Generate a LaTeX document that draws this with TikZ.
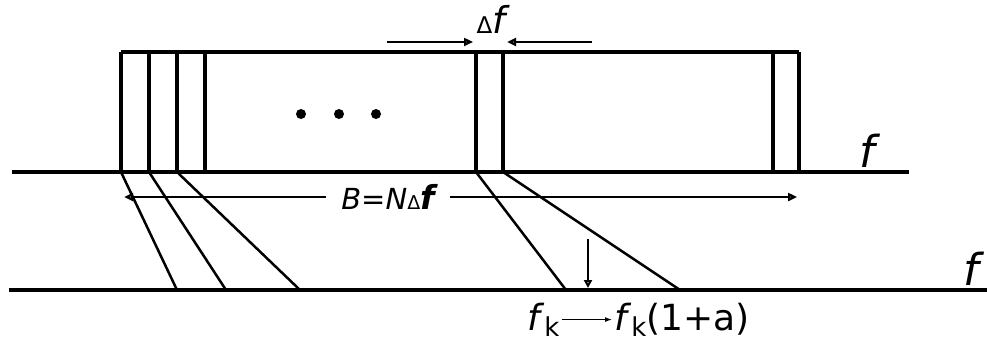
\documentclass[tikz,border=0pt]{standalone}
\usepackage{fontspec}
\setmainfont{DejaVu Sans}
\usetikzlibrary{positioning,arrows.meta}
\newcommand{\subk}{\raisebox{-0.18em}{\fontsize{26}{28}\selectfont k}}

\begin{document}
\begin{tikzpicture}[x=1pt,y=-1pt,
  axis/.style={line width=3.6pt},
  band/.style={line width=3.2pt, line join=miter},
  slant/.style={line width=2.5pt},
  span/.style={line width=2.3pt, -{Triangle[open,length=9pt,width=8pt]}},
  small arrow/.style={line width=1.2pt, -{Latex[length=7pt,width=5pt]}},
  lbl/.style={inner sep=0pt, font=\fontsize{29}{34}\selectfont},
  axlabel/.style={inner sep=0pt, font=\fontsize{44}{50}\selectfont\itshape}
]
\useasboundingbox (0,0) rectangle (987,342);

% frequency axes
\coordinate (ax1l) at (12,172);
\coordinate (ax1r) at (909,172);
\coordinate (ax2l) at (9,290);
\coordinate (ax2r) at (987,290);
\draw[axis] (ax1l) -- (ax1r);
\draw[axis] (ax2l) -- (ax2r);
\node[axlabel] (fup) at (867,151) {f};
\node[axlabel] (flow) at (971,269) {f};

% subcarrier bands
\foreach \x [count=\i] in {121,149,177,205,476,503,773,799} {
  \coordinate (u\i) at (\x,52);
  \coordinate (d\i) at (\x,172);
  \draw[band] (u\i) -- (d\i);
}
\draw[band] (u1) -- (u8);
\foreach \x in {301,339,376}
  \fill (\x,114) circle (5);

% scaled bands
\coordinate (s1) at (177,290);
\coordinate (s2) at (226,290);
\coordinate (s3) at (300,290);
\coordinate (s5) at (566,290);
\coordinate (s6) at (680,290);
\foreach \i in {1,2,3,5,6}
  \draw[slant] (d\i) -- (s\i);

% spacing
\node[inner sep=0pt] (df) at (491,19) {{\fontsize{23}{25}\selectfont Δ}{\fontsize{37}{40}\selectfont\itshape f}};
\coordinate (dfl) at (387,42);
\coordinate (dfr) at (592,42);
\coordinate (dfla) at (473,42);
\coordinate (dfra) at (507,42);
\draw[span] (dfl) -- (dfla);
\draw[span] (dfr) -- (dfra);

% bandwidth
\node[lbl, inner xsep=15pt] (bw) at (388,197) {\textit{B}=\textit{N}{\fontsize{19}{22}\selectfont Δ}{\fontsize{33}{38}\selectfont\bfseries\itshape f}};
\coordinate (bwl) at (124,197);
\coordinate (bwr) at (797,197);
\draw[span] (bw) -- (bwl);
\draw[span] (bw) -- (bwr);

% scaling
\coordinate (sct) at (588,239);
\coordinate (scb) at (588,288);
\draw[line width=2.6pt, -{Triangle[open,length=8pt,width=8pt]}] (sct) -- (scb);
\node[lbl, font=\fontsize{36}{40}\selectfont, anchor=base west] (fka) at (527,330) {\textit{f}\subk};
\node[lbl, font=\fontsize{36}{40}\selectfont, anchor=base west] (fkb) at (614,330) {\textit{f}\subk(1+a)};
\draw[small arrow] ([xshift=2pt]fka.east) -- ([xshift=-2pt]fka.east -| fkb.west);
\end{tikzpicture}
\end{document}
